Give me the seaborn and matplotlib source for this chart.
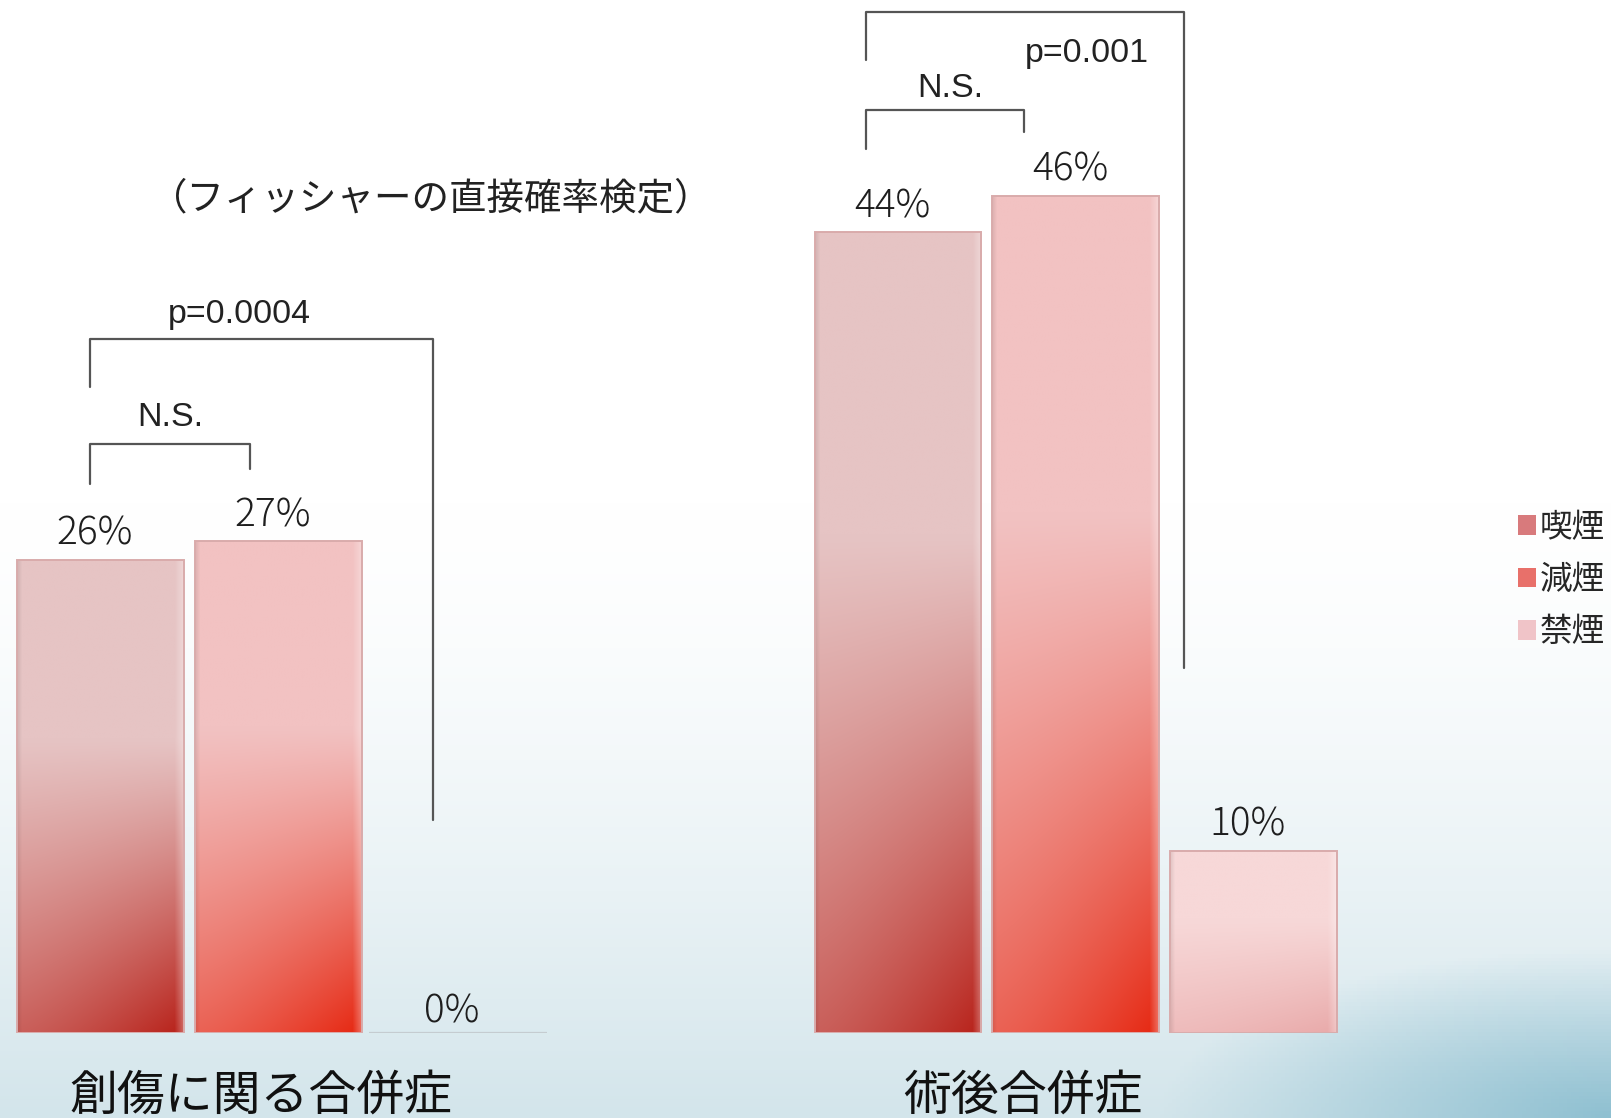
import numpy as np
import pandas as pd
import matplotlib
matplotlib.use("Agg")
import matplotlib.pyplot as plt
import seaborn as sns
from matplotlib.colors import to_rgb
from matplotlib.patches import Patch

# ---- data ----
categories = ["創傷に関る合併症", "術後合併症"]
groups = ["喫煙", "減煙", "禁煙"]
wound_values = [26, 27, 0]
postop_values = [44, 46, 10]

# ---- styling ----
top_colors = {"喫煙": "#e6c4c4", "減煙": "#f2c2c2", "禁煙": "#f7d8d8"}
deep_colors = {"喫煙": "#b8221a", "減煙": "#e62812", "禁煙": "#e9aaaa"}
legend_colors = {"喫煙": "#d87a7c", "減煙": "#e8706a", "禁煙": "#f0c4c8"}

JP = ["Noto Sans CJK JP", "DejaVu Sans"]
LAT = ["Liberation Sans", "DejaVu Sans"]

sns.set_theme(style="white")
plt.rcParams["font.family"] = JP

W, H = 1611, 1118
fig = plt.figure(figsize=(W / 100, H / 100), dpi=100)

# background: white fading into pale blue toward the bottom
bg = fig.add_axes([0, 0, 1, 1], zorder=0)
yy, xx = np.mgrid[0:1:300j, 0:1:400j]  # yy: 0 top -> 1 bottom
fade = np.clip((yy - 0.45) / 0.55, 0, 1) ** 1.5
white = np.array([1.0, 1.0, 1.0])
pale = np.array(to_rgb("#d3e5eb"))
img = white + (pale - white) * fade[..., None]
# darker blue sweep in the lower right corner
corner = np.clip(1 - np.hypot((1 - xx) / 0.28, (1 - yy) / 0.15), 0, 1) ** 1.0
deep = np.array(to_rgb("#8fc0d1"))
img = img + (deep - img) * corner[..., None]
bg.imshow(img, extent=[0, 1, 0, 1], aspect="auto", origin="upper")
bg.set_axis_off()

# main plotting area
base_px = 1032.5
ax = fig.add_axes([0, (H - base_px) / H, 1, base_px / H], zorder=1)
ax.patch.set_alpha(0)

df = pd.DataFrame({
    "category": np.repeat(categories, len(groups)),
    "group": groups * len(categories),
    "value": wound_values + postop_values,
})

sns.barplot(data=df, x="category", y="value", hue="group", order=categories,
            hue_order=groups, palette=top_colors, width=0.669, gap=0.064,
            ax=ax, legend=False, saturation=1, errorbar=None)

px_per_unit = 797.3
ax.set_xlim(-278.4 / px_per_unit, (W - 278.4) / px_per_unit)
ax.set_ylim(0, base_px / 18.19)
ax.set_axis_off()

label_kw = dict(textcoords="offset points", ha="center", va="center",
                fontsize=28, color="#1e1e1e", fontweight="light", family=JP)

# gradient fill for each bar, clipped to the bar shape
vals = wound_values + postop_values
for patch in list(ax.patches):
    x0, y0 = patch.get_x(), patch.get_y()
    w, h = patch.get_width(), patch.get_height()
    xc = x0 + w / 2
    cat_idx = int(round(xc))
    grp_idx = int(round((xc - cat_idx) / 0.223)) + 1
    g = groups[grp_idx]
    text = f"{vals[cat_idx * 3 + grp_idx]}%"
    if h <= 0:
        patch.set_facecolor("none")
        patch.set_edgecolor("#c5ccd0")
        patch.set_linewidth(1.6)
        patch.set_x(x0 - 0.005)
        patch.set_width(w + 0.015)
        ax.annotate(text, (xc, 0), xytext=(-3, 15), **label_kw)
        continue
    v, u = np.mgrid[0:1:300j, 0:1:80j]  # v: 0 bottom -> 1 top
    s = np.clip((0.62 - v) / 0.62, 0, 1) ** 1.1
    t = s * (0.62 + 0.38 * u ** 1.3)
    top = np.array(to_rgb(top_colors[g]))
    dp = np.array(to_rgb(deep_colors[g]))
    col = top + (dp - top) * t[..., None]
    # soft highlight along the right edge, shade along the left edge
    hl = np.clip((u - 0.95) / 0.05, 0, 1)[..., None] * 0.3
    col = col + (1 - col) * hl
    sh = np.clip((0.025 - u) / 0.025, 0, 1)[..., None] * 0.08
    col = col * (1 - sh)
    im = ax.imshow(col, extent=[x0, x0 + w, y0, y0 + h], origin="lower",
                   aspect="auto", zorder=2, interpolation="bilinear")
    im.set_clip_path(patch)
    patch.set_edgecolor("#d9abab")
    patch.set_linewidth(1.4)
    patch.set_zorder(3)
    patch.set_facecolor("none")
    ax.annotate(text, (xc, y0 + h), xytext=(-4, 18.5), **label_kw)

# significance brackets
line_kw = dict(color="#555555", lw=1.6, clip_on=False, zorder=4)
ax.plot([-0.2358, -0.2358, 0.1933, 0.1933], [35.47, 38.13, 38.13, 11.69], **line_kw)
ax.plot([-0.2358, -0.2358, -0.036, -0.036], [30.16, 32.36, 32.36, 31.0], **line_kw)
ax.plot([0.7371, 0.7371, 1.1353, 1.1353], [53.49, 56.09, 56.09, 20.05], **line_kw)
ax.plot([0.7371, 0.7371, 0.9356, 0.9356], [48.57, 50.72, 50.72, 49.53], **line_kw)

txt_kw = dict(ha="center", va="center", fontsize=24.5, color="#222222", family=LAT)
ax.text(-0.049, 39.48, "p=0.0004", **txt_kw)
ax.text(-0.135, 33.83, "N.S.", **txt_kw)
ax.text(1.0142, 53.83, "p=0.001", **txt_kw)
ax.text(0.8427, 51.9, "N.S.", **txt_kw)

ax.text(0.192, 45.86, "（フィッシャーの直接確率検定）", ha="center", va="center",
        fontsize=27, color="#222222", family=JP)

# category captions below the baseline
for xpos, label in zip([-0.0218, 0.934], categories):
    ax.text(xpos, -3.5, label, ha="center", va="center", fontsize=34.5,
            color="#111111", family=JP, clip_on=False)

# legend
handles = [Patch(facecolor=legend_colors[g], edgecolor="none", label=g) for g in groups]
fig.legend(handles=handles, loc="center left",
           bbox_to_anchor=(1518 / W, 1 - 580 / H), frameon=False,
           handlelength=0.55, handleheight=0.55,
           handletextpad=0.12, labelspacing=0.62, borderpad=0,
           borderaxespad=0, prop={"family": JP, "size": 23.5})

fig.savefig("out.png", dpi=100)
